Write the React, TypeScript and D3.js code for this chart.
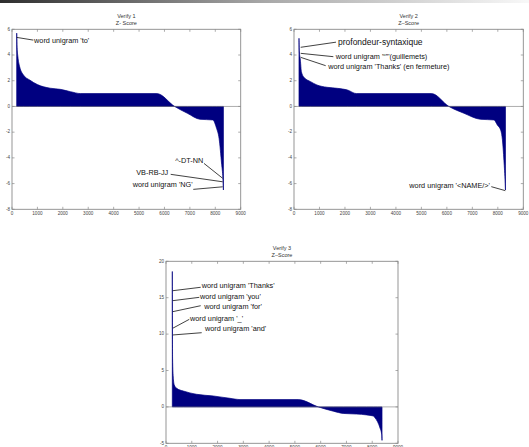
import React from "react";
import * as d3 from "d3";

// x ticks shared by the three plots
const xTicks = [0, 1000, 2000, 3000, 4000, 5000, 6000, 7000, 8000, 9000];
const yTicks12 = [-8, -6, -4, -2, 0, 2, 4, 6];
const yTicks3 = [-5, 0, 5, 10, 15, 20];

// sorted z-scores, key points (feature rank, z)
const v1X = [185, 200, 230, 300, 450, 700, 1000, 1500, 1900, 2300, 2700, 5700, 6400, 6900, 7400, 7900, 8050, 8150, 8250, 8300, 8320];
const v1Z = [5.7, 4.6, 3.9, 3.1, 2.45, 2.05, 1.7, 1.42, 1.33, 1.15, 1.0, 1.0, 0, -0.53, -1.0, -1.05, -1.7, -2.5, -4.5, -5.6, -6.5];

const v2X = [196, 210, 250, 290, 390, 650, 900, 1300, 1700, 2100, 2450, 5400, 6080, 6670, 7320, 7850, 7980, 8110, 8180, 8240, 8290, 8300];
const v2Z = [5.3, 4.3, 3.6, 2.7, 2.27, 1.93, 1.67, 1.49, 1.41, 1.28, 1.0, 1.0, 0, -0.53, -1.0, -1.05, -1.44, -1.83, -2.6, -4.2, -6.0, -6.5];

const v3X = [245, 255, 284, 323, 414, 672, 1190, 1836, 2482, 2870, 5133, 5909, 6491, 6879, 7396, 7784, 8043, 8108, 8200, 8302, 8368, 8380];
const v3Z = [18.6, 6.7, 3.93, 3.0, 2.55, 2.18, 1.73, 1.5, 1.18, 1.0, 1.0, 0, -0.59, -0.9, -0.98, -1.1, -1.25, -1.5, -2.0, -2.9, -3.8, -4.6];

const v1Labels = ["word unigram 'to'", "^-DT-NN", "VB-RB-JJ", "word unigram 'NG'"];
const v2Labels = ["profondeur-syntaxique", "word unigram '“”'(guillemets)", "word unigram 'Thanks' (en fermeture)", "word unigram '<NAME/>'"];
const v3Labels = ["word unigram 'Thanks'", "word unigram 'you'", "word unigram 'for'", "word unigram '_'", "word unigram 'and'"];

const FONT = "'Liberation Sans', Arial, sans-serif";

// ax/az: point on the curve, lx/lz: other end of the leader line, tx/tz: text spot (all in data units)
const panels = [
  {
    title: "Verify 1", sub: "Z- Score",
    left: 12, right: 240.7, top: 29.3, bottom: 209.3,
    yDomain: [-8, 6], yTicks: yTicks12, xs: v1X, zs: v1Z,
    notes: [
      { label: v1Labels[0], ax: 185, az: 5.37, lx: 838, lz: 5.16, tx: 870, tz: 5.1, end: false },
      { label: v1Labels[1], ax: 8291, az: -5.59, lx: 7555, lz: -4.43, tx: 7528, tz: -4.25, end: true },
      { label: v1Labels[2], ax: 8291, az: -5.86, lx: 6245, lz: -5.28, tx: 6150, tz: -5.18, end: true },
      { label: v1Labels[3], ax: 8291, az: -6.25, lx: 7134, lz: -6.45, tx: 7110, tz: -6.14, end: true },
    ],
  },
  {
    title: "Verify 2", sub: "Z\u2013Score",
    left: 294, right: 523.3, top: 29.3, bottom: 209.3,
    yDomain: [-8, 6], yTicks: yTicks12, xs: v2X, zs: v2Z,
    notes: [
      { label: v2Labels[0], ax: 262, az: 4.6, lx: 1650, lz: 5.0, tx: 1727, tz: 4.99, end: false, big: true },
      { label: v2Labels[1], ax: 262, az: 4.13, lx: 1544, lz: 3.87, tx: 1636, tz: 3.87, end: false },
      { label: v2Labels[2], ax: 262, az: 3.82, lx: 1244, lz: 3.17, tx: 1346, tz: 3.09, end: false },
      { label: v2Labels[3], ax: 8294, az: -6.55, lx: 7744, lz: -6.24, tx: 7693, tz: -6.19, end: true },
    ],
  },
  {
    title: "Verify 3", sub: "Z\u2013Score",
    left: 166, right: 398, top: 261.3, bottom: 443.3,
    yDomain: [-5, 20], yTicks: yTicks3, xs: v3X, zs: v3Z,
    notes: [
      { label: v3Labels[0], ax: 260, az: 15.96, lx: 1346, lz: 16.43, tx: 1385, tz: 16.6, end: false },
      { label: v3Labels[1], ax: 260, az: 14.59, lx: 1292, lz: 15.05, tx: 1319, tz: 15.14, end: false },
      { label: v3Labels[2], ax: 260, az: 13.08, lx: 1346, lz: 13.9, tx: 1486, tz: 13.76, end: false },
      { label: v3Labels[3], ax: 260, az: 10.8, lx: 904, lz: 12.03, tx: 931, tz: 12.03, end: false },
      { label: v3Labels[4], ax: 260, az: 9.88, lx: 1385, lz: 10.19, tx: 1513, tz: 10.66, end: false },
    ],
  },
];

const Panel = ({ p }) => {
  const x = d3.scaleLinear().domain([0, 9000]).range([p.left, p.right]);
  const y = d3.scaleLinear().domain(p.yDomain).range([p.bottom, p.top]);
  const pts = p.xs.map((v, i) => [v, p.zs[i]]);
  const area = d3
    .area()
    .x((d) => x(d[0]))
    .y0(y(0))
    .y1((d) => y(d[1]))
    .curve(d3.curveMonotoneX);
  const cx = (p.left + p.right) / 2;
  const axisCol = "#8a8a8a";
  const tl = 2.5;

  return (
    <g>
      <text x={cx} y={p.top - 12.5} textAnchor="middle" dominantBaseline="middle" fontSize={5.5} fill="#333" fontFamily={FONT}>
        {p.title}
      </text>
      <text x={cx} y={p.top - 5.5} textAnchor="middle" dominantBaseline="middle" fontSize={5.5} fill="#333" fontFamily={FONT}>
        {p.sub}
      </text>

      <path d={area(pts)} fill="#000080" stroke="#000080" strokeWidth={0.7} />
      <line x1={p.left} x2={p.right} y1={y(0)} y2={y(0)} stroke="#777" strokeWidth={0.6} />

      {/* box and inward ticks */}
      <rect x={p.left} y={p.top} width={p.right - p.left} height={p.bottom - p.top} fill="none" stroke={axisCol} strokeWidth={0.9} />
      {xTicks.map((t) => (
        <g key={"x" + t}>
          <line x1={x(t)} x2={x(t)} y1={p.bottom} y2={p.bottom - tl} stroke={axisCol} strokeWidth={0.7} />
          <line x1={x(t)} x2={x(t)} y1={p.top} y2={p.top + tl} stroke={axisCol} strokeWidth={0.7} />
          <text x={x(t)} y={p.bottom + 4.5} textAnchor="middle" dominantBaseline="middle" fontSize={4.6} fill="#444" fontFamily={FONT}>
            {t}
          </text>
        </g>
      ))}
      {p.yTicks.map((t) => (
        <g key={"y" + t}>
          <line x1={p.left} x2={p.left + tl} y1={y(t)} y2={y(t)} stroke={axisCol} strokeWidth={0.7} />
          <line x1={p.right} x2={p.right - tl} y1={y(t)} y2={y(t)} stroke={axisCol} strokeWidth={0.7} />
          <text x={p.left - 2} y={y(t)} textAnchor="end" dominantBaseline="middle" fontSize={4.6} fill="#444" fontFamily={FONT}>
            {t}
          </text>
        </g>
      ))}

      {/* annotations */}
      {p.notes.map((n) => (
        <g key={n.label}>
          <line x1={x(n.ax)} y1={y(n.az)} x2={x(n.lx)} y2={y(n.lz)} stroke="#111" strokeWidth={0.8} />
          <text
            x={x(n.tx)}
            y={y(n.tz)}
            textAnchor={n.end ? "end" : "start"}
            dominantBaseline="middle"
            fontSize={n.big ? 8.5 : 7.3}
            fill="#111"
            fontFamily={FONT}
          >
            {n.label}
          </text>
        </g>
      ))}
    </g>
  );
};

export default function App() {
  return (
    <svg width={529} height={447} style={{ position: "absolute", left: 0, top: 0, background: "#fff" }}>
      <defs>
        <linearGradient id="topbar" x1="0" x2="1" y1="0" y2="0">
          <stop offset="0" stopColor="#2e2e2e" />
          <stop offset="0.5" stopColor="#a8a8a8" />
          <stop offset="1" stopColor="#f8f8f8" />
        </linearGradient>
      </defs>
      <rect x={0} y={0} width={529} height={3} fill="url(#topbar)" />
      {panels.map((p) => (
        <Panel key={p.title} p={p} />
      ))}
    </svg>
  );
}
